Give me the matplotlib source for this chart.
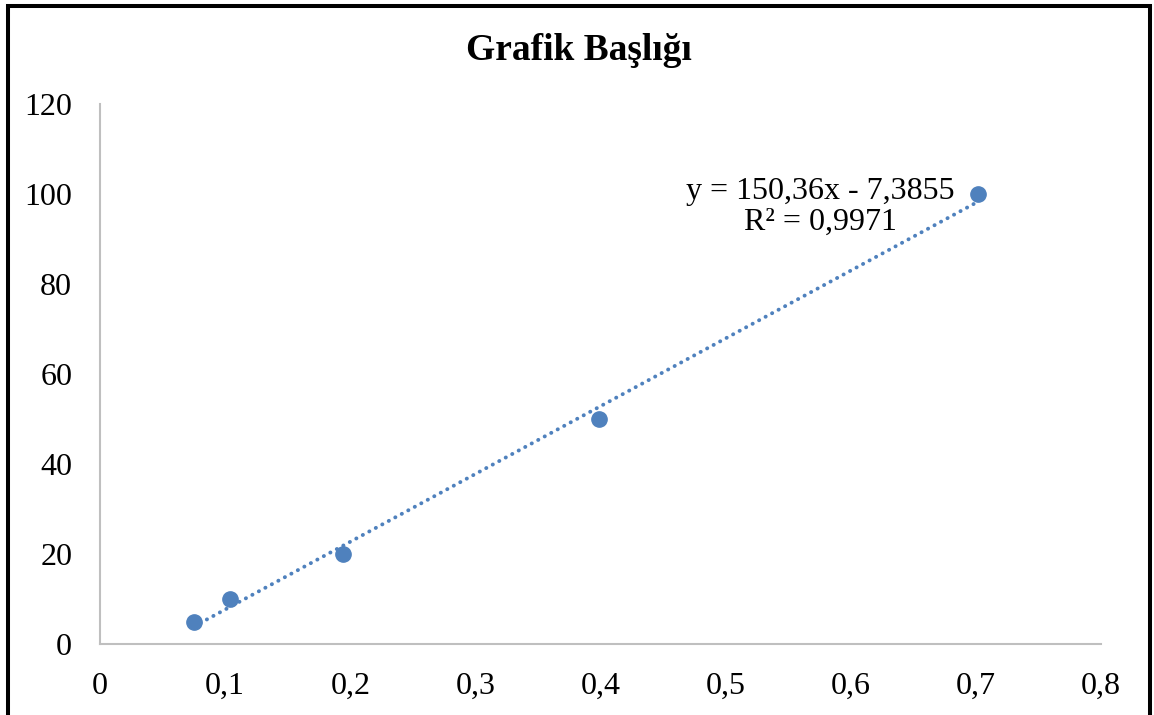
import numpy as np
import matplotlib
matplotlib.use("Agg")
import matplotlib.pyplot as plt
from matplotlib.patches import Rectangle

# data
x_vals = [0.075, 0.104, 0.194, 0.399, 0.702]
y_vals = [5, 10, 20, 50, 100]
x_ticks = [0, 0.1, 0.2, 0.3, 0.4, 0.5, 0.6, 0.7, 0.8]
x_tick_labels = ["0", "0,1", "0,2", "0,3", "0,4", "0,5", "0,6", "0,7", "0,8"]
y_ticks = [0, 20, 40, 60, 80, 100, 120]
title = "Grafik Başlığı"
eq_text = "y = 150,36x - 7,3855\nR² = 0,9971"

plt.rcParams['font.family'] = ['Liberation Serif', 'DejaVu Serif']
W, H = 1154, 715
fig = plt.figure(figsize=(W / 100, H / 100), dpi=100)
fig.patch.set_facecolor("white")

ax = fig.add_axes([100 / W, 1 - 644 / H, (1101 - 100) / W, (644 - 104) / H])
color = "#4F81BD"

# trendline (linear fit over data range)
coef = np.polyfit(x_vals, y_vals, 1)
xs = np.array([min(x_vals), max(x_vals)])
ax.plot(xs, np.polyval(coef, xs), color=color, lw=2.8,
        linestyle=(0, (0.05, 1.85)), dash_capstyle="round", zorder=2)
ax.plot(x_vals, y_vals, "o", color=color, ms=11, mec=color, zorder=3)

ax.set_xlim(0, 0.8)
ax.set_ylim(0, 120)
ax.set_xticks(x_ticks)
ax.set_xticklabels(x_tick_labels)
ax.set_yticks(y_ticks)
for s in ["top", "right"]:
    ax.spines[s].set_visible(False)
for s in ["left", "bottom"]:
    ax.spines[s].set_color("#BFBFBF")
    ax.spines[s].set_linewidth(1.5)
ax.tick_params(axis="both", length=0, labelsize=23, colors="black")
ax.tick_params(axis="y", pad=20)
ax.tick_params(axis="x", pad=20)

fig.text(579 / W, 1 - 50 / H, title, ha="center", va="center",
         fontsize=27, fontweight="bold")
fig.text(820 / W, 1 - 207 / H, eq_text, ha="center", va="center",
         fontsize=23, linespacing=1.12, multialignment="center")

# outer border
border = Rectangle((8 / W, -0.05), (1150 - 8) / W, 1.05 - 5.5 / H,
                   transform=fig.transFigure, fill=False, ec="black", lw=2.9)
fig.patches.append(border)

fig.savefig("out.png", dpi=100)
